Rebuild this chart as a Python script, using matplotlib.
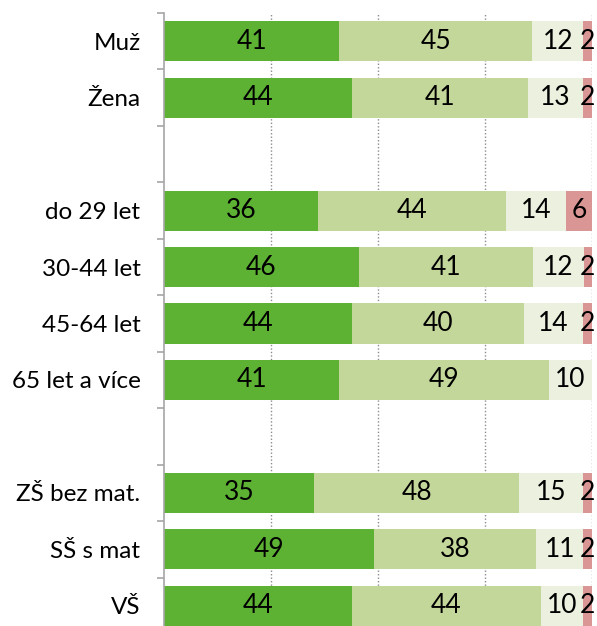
import numpy as np
import matplotlib.pyplot as plt

plt.rcParams['font.family'] = ['Lato', 'DejaVu Sans']

categories = ["Muž", "Žena", "", "do 29 let", "30-44 let", "45-64 let", "65 let a více",
              "", "ZŠ bez mat.", "SŠ s mat", "VŠ"]
s1 = [41, 44, 0, 36, 46, 44, 41, 0, 35, 49, 44]
s2 = [45, 41, 0, 44, 41, 40, 49, 0, 48, 38, 44]
s3 = [12, 13, 0, 14, 12, 14, 10, 0, 15, 11, 10]
s4 = [2, 2, 0, 6, 2, 2, 0, 0, 2, 2, 2]
colors = ["#5DB234", "#C4D79B", "#EBF1DE", "#DA9694"]

series = [np.array(s, dtype=float) for s in [s1, s2, s3, s4]]
totals = sum(series)
totals[totals == 0] = 1

px = 1 / 100
fig = plt.figure(figsize=(597 * px, 626 * px), dpi=100)
ax = fig.add_axes([164 / 597, -8 / 626, 428 / 597, 621 / 626])

y = np.arange(len(categories))
left = np.zeros(len(categories))
for vals, col in zip(series, colors):
    share = vals / totals * 100  # 100% stacked
    ax.barh(y, share, left=left, height=0.71, color=col, zorder=2)
    for yi, v, w, l in zip(y, vals, share, left):
        if v > 0:
            ax.text(l + w / 2, yi, f"{int(v)}", ha='center', va='center',
                    fontsize=19, color='black', zorder=3)
    left += share

ax.set_xlim(0, 100)
ax.set_ylim(len(categories) - 0.5, -0.5)
ax.set_yticks(y)
ax.set_yticklabels(categories, fontsize=17.5)
ax.set_yticks(np.arange(len(categories) + 1) - 0.5, minor=True)
ax.tick_params(axis='y', which='major', length=0, pad=17)
ax.tick_params(axis='y', which='minor', length=5, color='#A6A6A6', width=1.2, direction='out')
ax.set_xticks([])
for xg in [25, 50, 75, 100]:
    ax.axvline(xg, color='#8C8C8C', linestyle=(0, (1, 1.5)), linewidth=1, zorder=1)

for s in ['top', 'right', 'bottom']:
    ax.spines[s].set_visible(False)
ax.spines['left'].set_color('#A6A6A6')
ax.spines['left'].set_linewidth(1.2)

fig.savefig("out.png", dpi=100)
